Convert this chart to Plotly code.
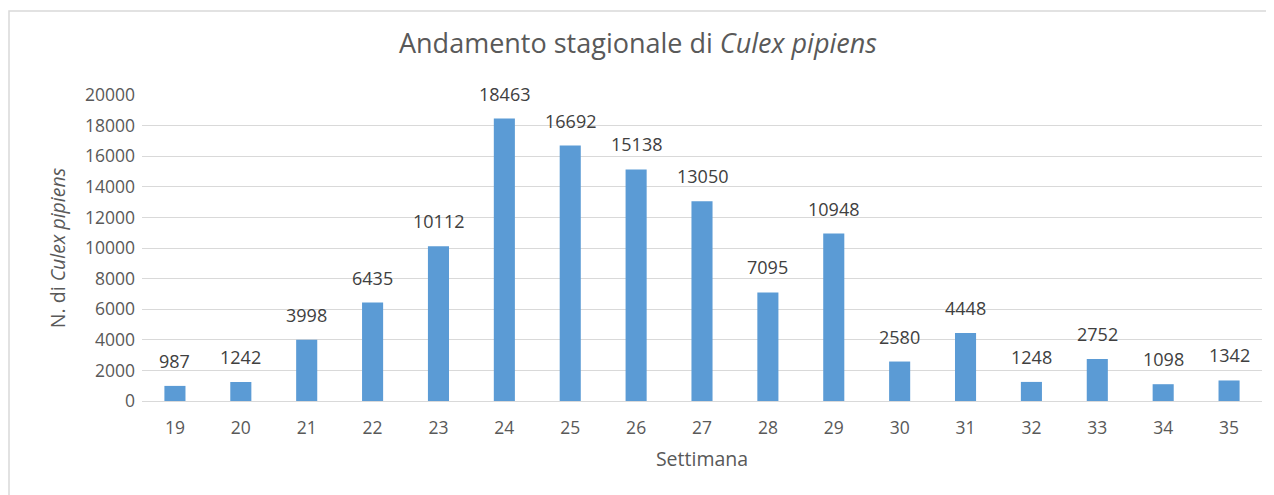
import plotly.graph_objects as go

weeks = [19, 20, 21, 22, 23, 24, 25, 26, 27, 28, 29, 30, 31, 32, 33, 34, 35]
counts = [987, 1242, 3998, 6435, 10112, 18463, 16692, 15138, 13050, 7095, 10948, 2580, 4448, 1248, 2752, 1098, 1342]
y_ticks = list(range(0, 20001, 2000))

# page body has an 8px margin; compensate
OFF = 8
W, H = 1274 - OFF, 495 - OFF
L, R, T, B = 142 - OFF, 12, 95 - OFF, 94
pw, ph = W - L - R, H - T - B

fig = go.Figure()
fig.add_trace(go.Bar(
    x=weeks, y=counts, width=0.32,
    marker=dict(color="#5B9BD5", line=dict(width=0)),
    hoverinfo="x+y",
))

for w, c in zip(weeks, counts):
    fig.add_annotation(x=w, y=c, xref="x", yref="y", text=str(c),
                       showarrow=False, yanchor="bottom", yshift=11,
                       font=dict(family="Open Sans", size=18, color="#404040"))

fig.update_layout(
    width=W, height=H,
    margin=dict(l=L, r=R, t=T, b=B),
    paper_bgcolor="white", plot_bgcolor="white",
    showlegend=False,
    title=dict(text="Andamento stagionale di <i>Culex pipiens</i>",
               x=(638 - OFF) / W, xref="container", xanchor="center",
               y=1 - (44 - OFF) / H, yref="container", yanchor="middle",
               font=dict(family="Open Sans", size=27, color="#595959")),
    xaxis=dict(range=[18.5, 35.5], tickmode="array", tickvals=weeks,
               ticktext=[str(w) for w in weeks], showgrid=False,
               zeroline=False, showline=False, ticks="", ticklabelstandoff=14,
               tickfont=dict(family="Open Sans", size=17.5, color="#595959"),
               title=dict(text="Settimana", standoff=14,
                          font=dict(family="Open Sans", size=19.5, color="#595959"))),
    yaxis=dict(range=[0, 20000], tickmode="array", tickvals=y_ticks,
               ticktext=[str(t) for t in y_ticks],
               showgrid=True, gridcolor="#D9D9D9", gridwidth=1,
               zeroline=True, zerolinecolor="#D9D9D9", zerolinewidth=1,
               ticks="", ticklabelstandoff=6,
               tickfont=dict(family="Open Sans", size=17.5, color="#595959"),
               title=dict(text="N. di <i>Culex pipiens</i>", standoff=14,
                          font=dict(family="Open Sans", size=19.5, color="#595959"))),
)

fig.add_shape(type="rect", xref="paper", yref="paper",
              x0=(9 - OFF - L) / pw, x1=(W + 20 - L) / pw,
              y0=-(B + 20) / ph, y1=(H - (11 - OFF) - B) / ph,
              line=dict(color="#D9D9D9", width=1.5), fillcolor="rgba(0,0,0,0)",
              layer="below")

fig.write_html("out.html")
